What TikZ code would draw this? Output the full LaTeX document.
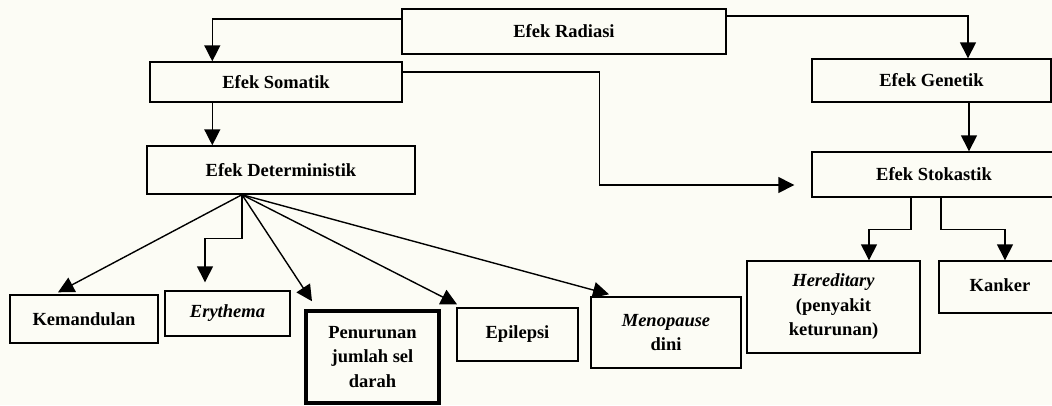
\documentclass[tikz,border=0pt]{standalone}
\usepackage{fontspec}
\setmainfont{Liberation Serif}
\usetikzlibrary{arrows.meta}
\definecolor{kertas}{RGB}{252,252,245}

\begin{document}
\begin{tikzpicture}[x=1pt,y=-1pt,
  kotak/.style={draw,line width=1.4pt,align=center,inner sep=0pt,
    font=\bfseries\fontsize{18.5}{24.5}\selectfont},
  panah/.style={line width=1.4pt,-{Triangle[width=16pt,length=16pt]}}]
\fill[kertas] (0,0) rectangle (1052,405);
\useasboundingbox (0,0) rectangle (1052,405);
\clip (0,0) rectangle (1052,405);

\node[kotak,minimum width=324pt,minimum height=45pt] (rad) at (564,31.5) {Efek Radiasi};
\node[kotak,minimum width=252pt,minimum height=40pt] (som) at (276,82) {Efek Somatik};
\node[kotak,minimum width=268pt,minimum height=48pt] (det) at (281,170) {Efek Deterministik};
\node[kotak,minimum width=239pt,minimum height=43pt] (gen) at (931.5,80.5) {Efek Genetik};
\node[kotak,minimum width=244pt,minimum height=45pt] (sto) at (934,174.5) {Efek Stokastik};

\node[kotak,minimum width=148pt,minimum height=48pt] (kem) at (84,319) {Kemandulan};
\node[kotak,minimum width=125pt,minimum height=45pt] (ery) at (227.5,313.5) {\textit{Erythema}};
\node[kotak,line width=3.5pt,minimum width=133pt,minimum height=92pt] (pen) at (372.5,357) {Penurunan\\jumlah sel\\darah};
\node[kotak,minimum width=121pt,minimum height=53pt] (epi) at (517.5,334.5) {Epilepsi};
\node[kotak,minimum width=150pt,minimum height=71pt] (men) at (666,332.5) {\textit{Menopause}\\dini};
\node[kotak,minimum width=173pt,minimum height=92pt] (her) at (833.5,307) {\textit{Hereditary}\\(penyakit\\keturunan)};
\node[kotak,minimum width=122pt,minimum height=52pt] (kan) at (1000,287) {\raisebox{4pt}{Kanker}};

\draw[panah] ([yshift=12.5pt]rad.west) -| ([xshift=63pt]som.north west);
\draw[panah] ([xshift=63pt]som.south west) -- ([xshift=63pt]som.south west |- det.north);
\draw[panah] ([yshift=15.5pt]rad.east) -| ([xshift=36.5pt]gen.north);
\draw[panah] ([xshift=37.5pt]gen.south) -- ([xshift=37.5pt]gen.south |- sto.north);
\coordinate (stoin) at ([xshift=-17pt,yshift=-10.5pt]sto.west);
\draw[panah] ([yshift=10pt]som.east) -| ([xshift=-195pt]stoin) -- (stoin);
\draw[panah] ([xshift=-23pt]sto.south) -- ++(0,32) -| ([xshift=35.5pt]her.north);
\draw[panah] ([xshift=7pt]sto.south) -- ++(0,32) -| ([xshift=5pt]kan.north);

\coordinate (src) at ([xshift=-39pt]det.south);
\draw[panah] (src) -- ([xshift=-26pt,yshift=2pt]kem.north);
\draw[panah] (src) -- ++(0,44) -| ([xshift=-22.5pt,yshift=8pt]ery.north);
\foreach \n/\dx/\dy in {pen/-60.5/8,epi/-60.5/3,men/-57/2}{
  \draw[panah] (src) -- ([xshift=\dx pt,yshift=\dy pt]\n.north);
}
\end{tikzpicture}
\end{document}
